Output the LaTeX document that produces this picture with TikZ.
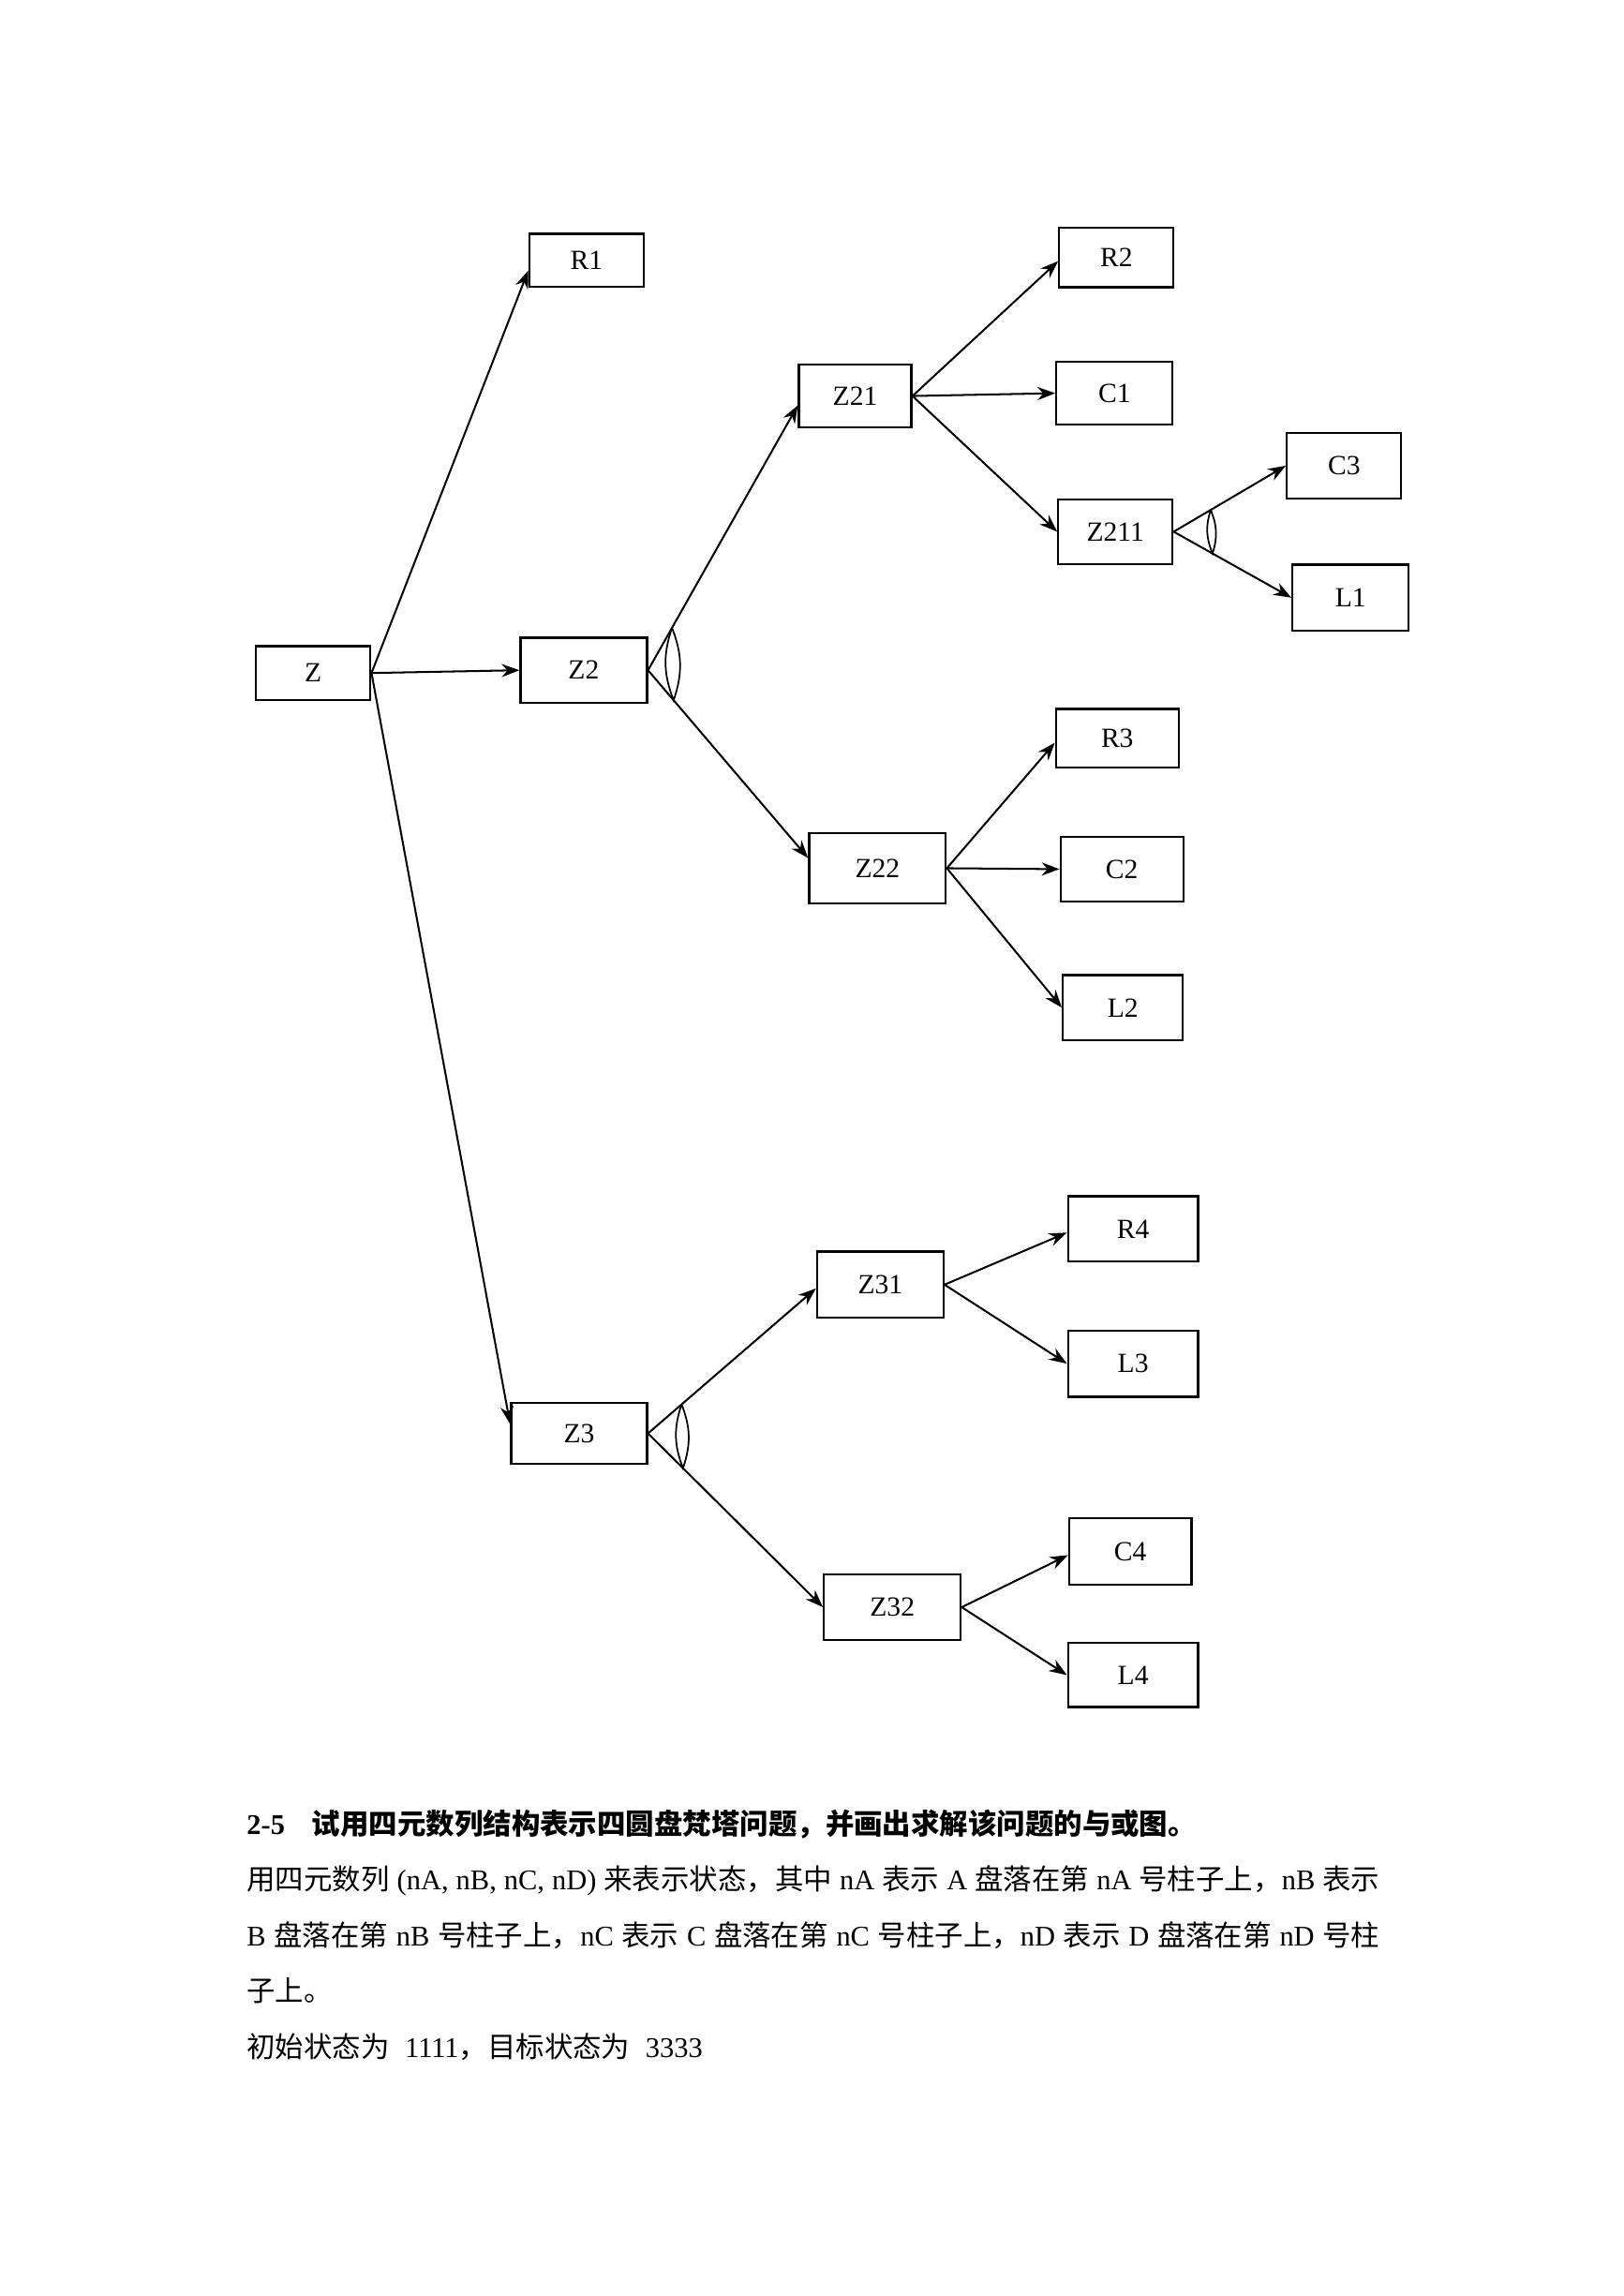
\documentclass[tikz,border=0pt]{standalone}
\usepackage{fontspec}
\setmainfont{Liberation Serif}
\newfontfamily\cjk{Noto Sans CJK SC}
\usetikzlibrary{arrows.meta, calc}

\newcommand{\zh}[1]{{\cjk #1}}

\begin{document}
\begin{tikzpicture}[x=0.12021mm, y=-0.12021mm,
        box/.style={draw, line width=0.8pt, inner sep=0pt, font=\fontsize{10.2}{12}\selectfont},
        arr/.style={line width=0.7pt, -{Stealth[length=2.3mm, width=1.7mm]}},
        andarc/.style={line width=0.6pt},
        txt/.style={anchor=base west, inner sep=0pt, font=\fontsize{10.5}{12}\selectfont}]
    \useasboundingbox (0,0) rectangle (1747,2470);

    % Define the state boxes: name/x/y/width/height
    \foreach \name/\x/\y/\w/\h in {Z/337/724/123/58, R1/631/280/123/57,
            Z2/628/721/136/70, Z3/623/1542/146/66,
            Z21/920/426/121/68, Z22/944/934/147/76,
            Z31/947/1382/136/71, Z32/960/1729/147/71,
            R2/1201/277/123/64, C1/1199/423/125/68, Z211/1200/572/123/70,
            C3/1446/501/123/70, L1/1453/643/125/71,
            R3/1202/794/132/63, C2/1207/935/132/70, L2/1208/1084/129/70,
            R4/1219/1322/140/70, L3/1219/1467/140/71,
            C4/1216/1669/132/71, L4/1219/1802/140/69} {
        \node[box, minimum width=\w*0.12021mm, minimum height=\h*0.12021mm] (\name) at (\x,\y) {\name};
    }

    % Draw the arrows: parent/child/drop of the tip
    \foreach \a/\b/\d in {Z/R1/11, Z/Z2/0, Z/Z3/-10,
            Z2/Z21/10, Z2/Z22/-11, Z3/Z31/4, Z3/Z32/0,
            Z21/R2/4, Z21/C1/0, Z21/Z211/0, Z211/C3/0, Z211/L1/0,
            Z22/R3/5, Z22/C2/0, Z22/L2/0,
            Z31/R4/4, Z31/L3/0, Z32/C4/4, Z32/L4/0} {
        \coordinate (\a-\b) at ([yshift={-(\d)*0.12021mm}]\b.west);
        \draw[arr] (\a.east) -- (\a-\b);
    }

    % Mark the and-nodes
    \foreach \a/\b/\c/\f in {Z2/Z21/Z22/0.16, Z211/C3/L1/0.33, Z3/Z31/Z32/0.2} {
        \draw[andarc] ($(\a.east)!\f!(\a-\b)$) to[bend left=20] ($(\a.east)!\f!(\a-\c)$)
            to[bend left=20] ($(\a.east)!\f!(\a-\b)$);
    }

    % Question text
    \node[txt, font=\fontsize{10.5}{12}\selectfont\bfseries] (title) at (265,1973)
        {2-5\hspace{3.5mm}\zh{试用四元数列结构表示四圆盘梵塔问题，并画出求解该问题的与或图。}};
    \node[txt] (line1) at (265,2033) {\makebox[146.5mm][s]{\zh{用四元数列} (nA, nB, nC, nD) \zh{来表示状态，其中} nA \zh{表示} A \zh{盘落在第} nA \zh{号柱子上，}nB \zh{表示}}};
    \node[txt] (line2) at (265,2093) {\makebox[146.5mm][s]{B \zh{盘落在第} nB \zh{号柱子上，}nC \zh{表示} C \zh{盘落在第} nC \zh{号柱子上，}nD \zh{表示} D \zh{盘落在第} nD \zh{号柱}}};
    \node[txt] (line3) at (265,2153) {\zh{子上。}};
    \node[txt] (line4) at (265,2213) {\zh{初始状态为}\hspace{2mm}1111\zh{，目标状态为}\hspace{2mm}3333};
\end{tikzpicture}
\end{document}
